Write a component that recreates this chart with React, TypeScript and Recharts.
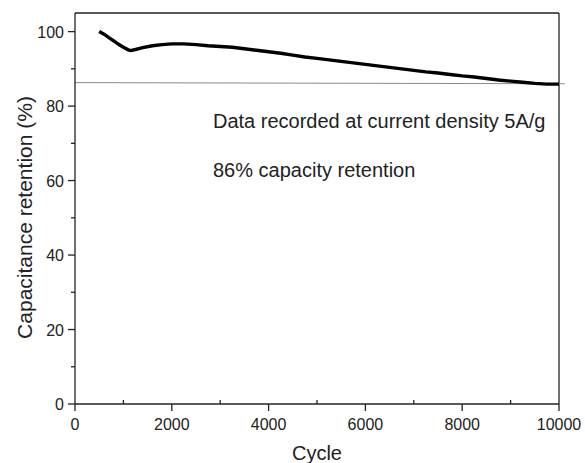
import React from "react";
import { LineChart, Line, XAxis, YAxis, ReferenceLine, Label } from "recharts";

const cycles = [500, 600, 700, 800, 900, 1000, 1100, 1150, 1250, 1400, 1600, 1800, 2000, 2250, 2500, 2750, 3000, 3250, 3500, 3750, 4000, 4250, 4500, 4750, 5000, 5250, 5500, 5750, 6000, 6250, 6500, 6750, 7000, 7250, 7500, 7750, 8000, 8250, 8500, 8750, 9000, 9250, 9500, 9750, 10000];
const retention = [100.0, 99.3, 98.4, 97.5, 96.6, 95.8, 95.1, 94.9, 95.2, 95.7, 96.2, 96.5, 96.7, 96.7, 96.5, 96.2, 96.0, 95.8, 95.4, 95.0, 94.6, 94.2, 93.7, 93.2, 92.8, 92.4, 92.0, 91.6, 91.2, 90.8, 90.4, 90.0, 89.6, 89.2, 88.9, 88.5, 88.1, 87.8, 87.4, 87.0, 86.7, 86.4, 86.1, 85.9, 85.9];
const xTicks = [0, 1000, 2000, 3000, 4000, 5000, 6000, 7000, 8000, 9000, 10000];
const yTicks = [0, 10, 20, 30, 40, 50, 60, 70, 80, 90, 100];
const refStart = { x: 0, y: 86.3 };
const refEnd = { x: 10120, y: 86.0 };
const note1 = "Data recorded at current density 5A/g";
const note2 = "86% capacity retention";
const note1Y = 75.7;
const note2Y = 62.6;

const data = cycles.map((c, i) => ({ cycle: c, value: retention[i] }));

const FONT = "'Liberation Sans', Arial, sans-serif";
const AX = "#222";

const XTick = (props: any) => {
  const { x, y, payload } = props;
  const v = payload.value;
  const major = v % 2000 === 0;
  return (
    <g>
      {major ? (
        <line x1={x} x2={x} y1={y} y2={y + 7} stroke={AX} strokeWidth={1.3} />
      ) : (
        <line x1={x} x2={x} y1={y} y2={y - 4} stroke={AX} strokeWidth={1.3} />
      )}
      {major && (
        <text x={x} y={y + 26} textAnchor="middle" fontSize={16} fontFamily={FONT} fill="#222">
          {v}
        </text>
      )}
    </g>
  );
};

const YTick = (props: any) => {
  const { x, y, payload } = props;
  const v = payload.value;
  const major = v % 20 === 0;
  return (
    <g>
      <line x1={x - (major ? 7 : 4)} x2={x} y1={y} y2={y} stroke={AX} strokeWidth={1.3} />
      {major && (
        <text x={x - 11} y={y + 6} textAnchor="end" fontSize={16} fontFamily={FONT} fill="#222">
          {v}
        </text>
      )}
    </g>
  );
};

const noteLabel = (text: string) => (p: any) => {
  const vb = p.viewBox || {};
  return (
    <text x={vb.x + 138} y={vb.y + 6} fontSize={20} fontFamily={FONT} fill="#222">
      {text}
    </text>
  );
};

export default function App() {
  return (
    <div style={{ width: 577, height: 455, paddingLeft: 8, paddingTop: 8, overflow: "hidden" }}>
      <style>{`body { margin: 0; }`}</style>
      <LineChart
        width={577}
        height={455}
        data={data}
        margin={{ top: 5, right: 26, left: 0, bottom: 0 }}
      >
        <XAxis
          xAxisId="b"
          dataKey="cycle"
          type="number"
          domain={[0, 10000]}
          ticks={xTicks}
          tick={<XTick />}
          tickLine={false}
          tickSize={0}
          tickMargin={0}
          height={59}
          stroke={AX}
          strokeWidth={1.3}
          interval={0}
          allowDataOverflow
        >
          <Label
            content={(p: any) => {
              const vb = p.viewBox || {};
              return (
                <text x={vb.x + vb.width / 2} y={452} textAnchor="middle" fontSize={20} fontFamily={FONT} fill="#222">
                  Cycle
                </text>
              );
            }}
          />
        </XAxis>
        <YAxis
          yAxisId="l"
          type="number"
          domain={[0, 105]}
          ticks={yTicks}
          tick={<YTick />}
          tickLine={false}
          tickSize={0}
          tickMargin={0}
          width={67}
          stroke={AX}
          strokeWidth={1.3}
          interval={0}
        >
          <Label
            content={(p: any) => {
              const vb = p.viewBox || {};
              const cy = vb.y + vb.height / 2 + 9;
              return (
                <text
                  x={24}
                  y={cy}
                  transform={`rotate(-90 24 ${cy})`}
                  textAnchor="middle"
                  fontSize={21}
                  fontFamily={FONT}
                  fill="#222"
                >
                  Capacitance retention (%)
                </text>
              );
            }}
          />
        </YAxis>
        <ReferenceLine xAxisId="b" yAxisId="l" x={10000} stroke={AX} strokeWidth={1.3} />
        <ReferenceLine xAxisId="b" yAxisId="l" y={105} stroke={AX} strokeWidth={1.3} />
        <ReferenceLine
          xAxisId="b"
          yAxisId="l"
          segment={[refStart, refEnd]}
          stroke="#888"
          strokeWidth={1}
          ifOverflow="visible"
        />
        <Line
          xAxisId="b"
          yAxisId="l"
          dataKey="value"
          type="linear"
          stroke="#000"
          strokeWidth={3.4}
          dot={false}
          isAnimationActive={false}
        />
        <ReferenceLine xAxisId="b" yAxisId="l" y={note1Y} stroke="none" ifOverflow="visible" label={noteLabel(note1)} />
        <ReferenceLine xAxisId="b" yAxisId="l" y={note2Y} stroke="none" ifOverflow="visible" label={noteLabel(note2)} />
      </LineChart>
    </div>
  );
}
